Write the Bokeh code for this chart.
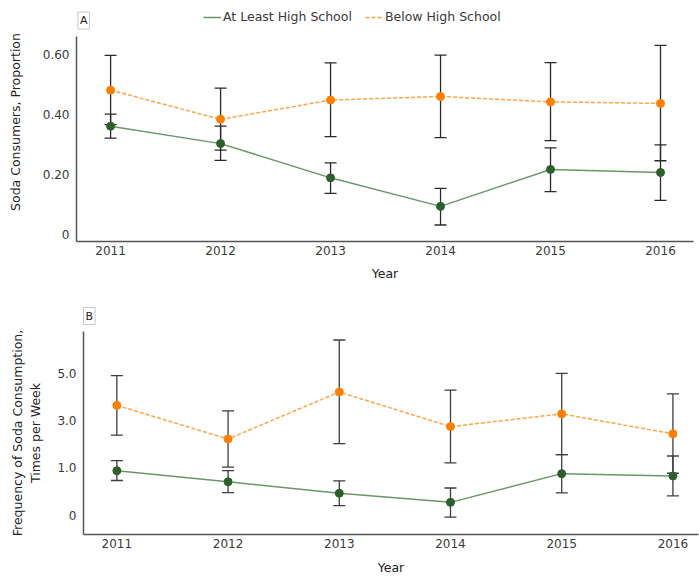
from bokeh.plotting import figure
from bokeh.models import (ColumnDataSource, Whisker, TeeHead, Legend, LegendItem,
                          Title, Label, Range1d, FixedTicker)
from bokeh.layouts import column, row
from bokeh.embed import file_html
from bokeh.resources import INLINE

# ---------------- data ----------------
years = [2011, 2012, 2013, 2014, 2015, 2016]
year_labels = ["2011", "2012", "2013", "2014", "2015", "2016"]
series_names = ["At Least High School", "Below High School"]

# Panel A: soda consumers, proportion
hs_prop = [0.360, 0.302, 0.188, 0.093, 0.216, 0.206]
hs_prop_lo = [0.320, 0.246, 0.136, 0.031, 0.142, 0.113]
hs_prop_hi = [0.400, 0.360, 0.238, 0.153, 0.288, 0.298]
bhs_prop = [0.480, 0.383, 0.447, 0.459, 0.441, 0.436]
bhs_prop_lo = [0.365, 0.280, 0.325, 0.322, 0.312, 0.245]
bhs_prop_hi = [0.596, 0.487, 0.571, 0.597, 0.572, 0.629]
prop_ticks = [0, 0.2, 0.4, 0.6]
prop_tick_labels = ["0", "0.20", "0.40", "0.60"]

# Panel B: frequency of soda consumption (axis positions)
hs_freq = [0.938, 0.704, 0.462, 0.269, 0.876, 0.828]
hs_freq_lo = [0.731, 0.476, 0.200, -0.041, 0.470, 0.407]
hs_freq_hi = [1.153, 0.938, 0.725, 0.573, 1.277, 1.249]
bhs_freq = [2.319, 1.608, 2.602, 1.870, 2.139, 1.718]
bhs_freq_lo = [1.691, 1.014, 1.511, 1.104, 1.277, 0.884]
bhs_freq_hi = [2.946, 2.201, 3.700, 2.643, 2.995, 2.561]
freq_ticks = [0, 1, 2, 3]
freq_tick_labels = ["0", "1.0", "3.0", "5.0"]

# ---------------- style ----------------
FONT = "DejaVu Sans"
GREEN_PT = "#2c5f2c"
GREEN_LN = "#6a976a"
ORANGE_PT = "#ff8000"
ORANGE_LN = "#ffa347"
AXIS = "#555555"
TXT = "#3a3a3a"


def style(p, yticks, ylabels, ylabel, ylab_standoff, xlab_standoff, xtick_standoff):
    p.xgrid.visible = False
    p.ygrid.visible = False
    p.outline_line_color = None
    for ax in (p.xaxis[0], p.yaxis[0]):
        ax.axis_line_color = AXIS
        ax.axis_line_width = 1.5
        ax.major_tick_line_color = None
        ax.minor_tick_line_color = None
        ax.major_tick_out = 0
        ax.major_tick_in = 0
        ax.minor_tick_out = 0
        ax.major_label_text_font = FONT
        ax.major_label_text_font_size = "12px"
        ax.major_label_text_color = TXT
        ax.axis_label_text_font = FONT
        ax.axis_label_text_font_size = "12.5px"
        ax.axis_label_text_font_style = "normal"
        ax.axis_label_text_color = "#222222"
    p.xaxis[0].ticker = FixedTicker(ticks=years)
    p.xaxis[0].major_label_overrides = dict(zip(years, year_labels))
    p.xaxis[0].axis_label = "Year"
    p.xaxis[0].major_label_standoff = xtick_standoff
    p.xaxis[0].axis_label_standoff = xlab_standoff
    p.yaxis[0].ticker = FixedTicker(ticks=yticks)
    p.yaxis[0].major_label_overrides = dict(zip(yticks, ylabels))
    p.yaxis[0].axis_label = ylabel
    p.yaxis[0].major_label_standoff = 7
    p.yaxis[0].axis_label_standoff = ylab_standoff


def draw(p, hs, hs_lo, hs_hi, bhs, bhs_lo, bhs_hi, err):
    s_hs = ColumnDataSource(dict(x=years, y=hs, lo=hs_lo, hi=hs_hi))
    s_bhs = ColumnDataSource(dict(x=years, y=bhs, lo=bhs_lo, hi=bhs_hi))
    l1 = p.line("x", "y", source=s_hs, line_color=GREEN_LN, line_width=1.5)
    l2 = p.line("x", "y", source=s_bhs, line_color=ORANGE_LN, line_width=1.5,
                line_dash="4 2")
    p.scatter("x", "y", source=s_hs, size=8, fill_color=GREEN_PT, line_color=GREEN_PT)
    p.scatter("x", "y", source=s_bhs, size=8, fill_color=ORANGE_PT, line_color=ORANGE_PT)
    for s in (s_bhs, s_hs):
        w = Whisker(base="x", lower="lo", upper="hi", source=s,
                    line_color=err, line_width=1.3,
                    lower_head=TeeHead(size=12, line_color=err, line_width=1.3),
                    upper_head=TeeHead(size=12, line_color=err, line_width=1.3))
        p.add_layout(w)
    return l1, l2


TAG_STYLE = dict(text_font=FONT, text_font_size="11px", text_color="#222222",
                 border_line_color="#c8c8c8", border_line_width=1,
                 background_fill_color="white", padding=2)

# ---------------- panel A ----------------
# frame extended upward (axis line bounded) so the legend sits above the data area
A_X0, A_X1 = 2010.69, 2016.30
A_Y0, A_YTOP, A_Y1 = -0.024, 0.659, 0.772
pA = figure(width=699, height=290, output_backend="svg", toolbar_location=None,
            x_range=Range1d(A_X0, A_X1), y_range=Range1d(A_Y0, A_Y1),
            min_border_left=76, min_border_right=6, min_border_top=2,
            min_border_bottom=49)
style(pA, prop_ticks, prop_tick_labels, "Soda Consumers, Proportion", 17, 8, 4)
pA.yaxis[0].bounds = (A_Y0, A_YTOP)
la1, la2 = draw(pA, hs_prop, hs_prop_lo, hs_prop_hi, bhs_prop, bhs_prop_lo, bhs_prop_hi,
                "#2a2a2a")
legend = Legend(items=[LegendItem(label=series_names[0], renderers=[la1]),
                       LegendItem(label=series_names[1], renderers=[la2])],
                orientation="horizontal", location=(127, 217),
                margin=0, padding=0, spacing=13, glyph_width=18, glyph_height=14,
                label_height=14, label_standoff=2,
                label_text_font=FONT, label_text_font_size="12.5px",
                label_text_color=TXT, border_line_color=None,
                background_fill_alpha=0)
pA.add_layout(legend)
pA.add_layout(Label(x=A_X0 + 0.065, y=A_YTOP + 0.053, text="A",
                    text_align="center", text_baseline="middle", **TAG_STYLE))

# ---------------- panel B ----------------
pB = figure(width=699, height=287, output_backend="svg", toolbar_location=None,
            x_range=Range1d(2010.70, 2016.23), y_range=Range1d(-0.41, 3.88),
            min_border_left=83, min_border_right=1, min_border_top=41,
            min_border_bottom=39)
style(pB, freq_ticks, freq_tick_labels,
      "Frequency of Soda Consumption,\nTimes per Week", 11, 9, 4)
draw(pB, hs_freq, hs_freq_lo, hs_freq_hi, bhs_freq, bhs_freq_lo, bhs_freq_hi, "#3d3d3d")
pB.add_layout(Title(text="B", align="left", offset=0, standoff=14,
                    text_font_style="normal", **TAG_STYLE), "above")

layout = column(row(pA), row(pB), spacing=0)
open("out.html", "w").write(file_html(layout, INLINE))
